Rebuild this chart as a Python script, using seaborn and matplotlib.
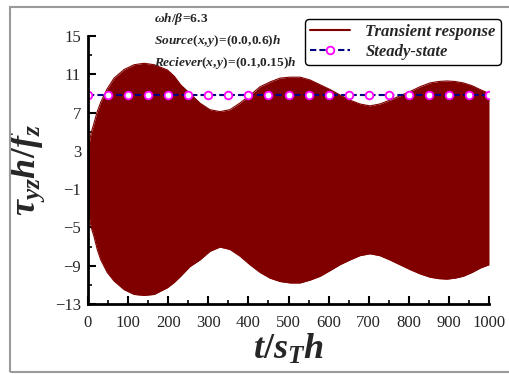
import numpy as np
import pandas as pd
import matplotlib
matplotlib.use("Agg")
import matplotlib.pyplot as plt
from matplotlib.patches import Rectangle
from matplotlib.lines import Line2D
from matplotlib.ticker import MultipleLocator
import seaborn as sns

# ---- data ----
t_env = [0, 3, 8, 15, 23, 32, 48, 65, 90, 115, 140, 165, 198, 215, 231, 254,
         279, 304, 329, 354, 379, 404, 429, 454, 479, 504, 529, 554, 579, 604,
         628, 653, 678, 703, 728, 753, 778, 803, 828, 853, 875, 895, 915, 936,
         958, 978, 1000]
upper_env = [2.8, 3.8, 4.9, 5.9, 7.1, 8.1, 9.5, 10.6, 11.5, 12.0, 12.15, 12.0,
             11.45, 10.8, 9.9, 9.0, 8.0, 7.3, 7.1, 7.3, 8.0, 8.8, 9.7, 10.2,
             10.6, 10.7, 10.7, 10.4, 9.9, 9.4, 8.85, 8.3, 7.9, 7.7, 7.9, 8.3,
             8.75, 9.2, 9.7, 10.1, 10.25, 10.3, 10.25, 10.1, 9.8, 9.4, 9.0]
lower_env = [-2.85, -3.9, -5.0, -5.95, -7.3, -8.4, -9.7, -10.6, -11.5, -12.0,
             -12.1, -12.0, -11.3, -10.75, -10.1, -9.1, -8.4, -7.5, -7.05, -7.3,
             -8.0, -8.9, -9.7, -10.3, -10.65, -10.8, -10.8, -10.5, -10.1, -9.5,
             -8.9, -8.4, -7.95, -7.75, -7.95, -8.4, -8.9, -9.4, -9.85, -10.2,
             -10.35, -10.4, -10.3, -10.1, -9.7, -9.25, -8.9]
t_ss = [0, 50, 100, 150, 200, 250, 300, 350, 400, 450, 500, 550, 600, 650, 700,
        750, 800, 850, 900, 950, 1000]
ss_val = [8.8] * len(t_ss)
x_ticks = [0, 100, 200, 300, 400, 500, 600, 700, 800, 900, 1000]
y_ticks = [-13, -9, -5, -1, 3, 7, 11, 15]
series_names = ["Transient response", "Steady-state"]

sns.set_style("ticks")
plt.rcParams["font.family"] = ["Liberation Serif", "DejaVu Serif"]
plt.rcParams["mathtext.fontset"] = "custom"
plt.rcParams["mathtext.rm"] = "Liberation Serif:bold"
plt.rcParams["mathtext.it"] = "Liberation Serif:italic:bold"
plt.rcParams["mathtext.bf"] = "Liberation Serif:bold"

W, H = 509, 374
fig = plt.figure(figsize=(W / 100, H / 100), dpi=100)
ax = fig.add_axes([88 / W, 1 - 304 / H, (489 - 88) / W, (304 - 36) / H])

maroon = "#800000"
env_df = pd.DataFrame({"t": t_env, "upper": upper_env, "lower": lower_env})
ax.fill_between(env_df["t"], env_df["lower"], env_df["upper"], color=maroon,
                linewidth=0)
sns.lineplot(data=env_df, x="t", y="upper", color=maroon, lw=0.8, ax=ax)
sns.lineplot(data=env_df, x="t", y="lower", color=maroon, lw=0.8, ax=ax)

ss_df = pd.DataFrame({"t": t_ss, "v": ss_val})
sns.lineplot(data=ss_df, x="t", y="v", ax=ax, color="#000080", lw=1.5,
             linestyle=(0, (3, 1.5)), marker="o", markersize=5.5,
             markerfacecolor="white", markeredgecolor="#ff00ff",
             markeredgewidth=1.3)

ax.set_xlim(0, 1000)
ax.set_ylim(-13, 15)
ax.set_xticks(x_ticks)
ax.set_yticks(y_ticks)
ax.xaxis.set_minor_locator(MultipleLocator(50))
ax.set_yticks([v for v in range(-13, 16, 2) if v not in y_ticks], minor=True)
ax.tick_params(which="major", direction="in", length=6, width=1.5,
               labelsize=12, color="black")
ax.tick_params(which="minor", direction="in", length=3, width=1.2,
               color="black")
ax.tick_params(axis="x", which="major", pad=8)
ax.tick_params(axis="y", which="major", pad=5)
for side in ["top", "right"]:
    ax.spines[side].set_visible(False)
for side in ["left", "bottom"]:
    ax.spines[side].set_linewidth(2)
    ax.spines[side].set_color("black")

ax.set_xlabel(r"$t/s_T h$", fontsize=26, labelpad=1)
ax.set_ylabel(r"$\tau_{yz}h/f_z$", fontsize=26, labelpad=6)

# annotations
fig.text(154 / W, 1 - 19 / H, r"$\omega h/\beta\!=\!6.3$", fontsize=9.6,
         va="center", ha="left")
fig.text(154 / W, 1 - 41 / H, r"$Source(x,\!y)\!=\!(0.0,\!0.6)h$",
         fontsize=9.6, va="center", ha="left")
fig.text(154 / W, 1 - 63 / H, r"$Reciever(x,\!y)\!=\!(0.1,\!0.15)h$",
         fontsize=9.6, va="center", ha="left")

# legend
if ax.get_legend() is not None:
    ax.get_legend().remove()
h1 = Line2D([], [], color=maroon, lw=1.5)
h2 = Line2D([], [], color="#000080", lw=1.5, linestyle=(0, (3, 1.5)),
            marker="o", markersize=5.5, markerfacecolor="white",
            markeredgecolor="#ff00ff", markeredgewidth=1.3)
leg = fig.legend([h1, h2], series_names, loc="upper right",
                 bbox_to_anchor=(509 / W, 1 - 11 / H), frameon=True,
                 fancybox=True, handlelength=2.4, handletextpad=0.9,
                 borderpad=0.3, labelspacing=0.2,
                 prop={"family": "Liberation Serif", "weight": "bold",
                       "style": "italic", "size": 12})
leg.get_frame().set_edgecolor("black")
leg.get_frame().set_linewidth(1.0)
leg.get_frame().set_alpha(1)

# outer gray frame
fig.patches.append(Rectangle((10 / W, 2 / H), 1.2, 1 - 2 / H - 7 / H,
                             transform=fig.transFigure, fill=False,
                             edgecolor="#9a9a9a", lw=1.5, zorder=0))

fig.savefig("out.png", dpi=100)
